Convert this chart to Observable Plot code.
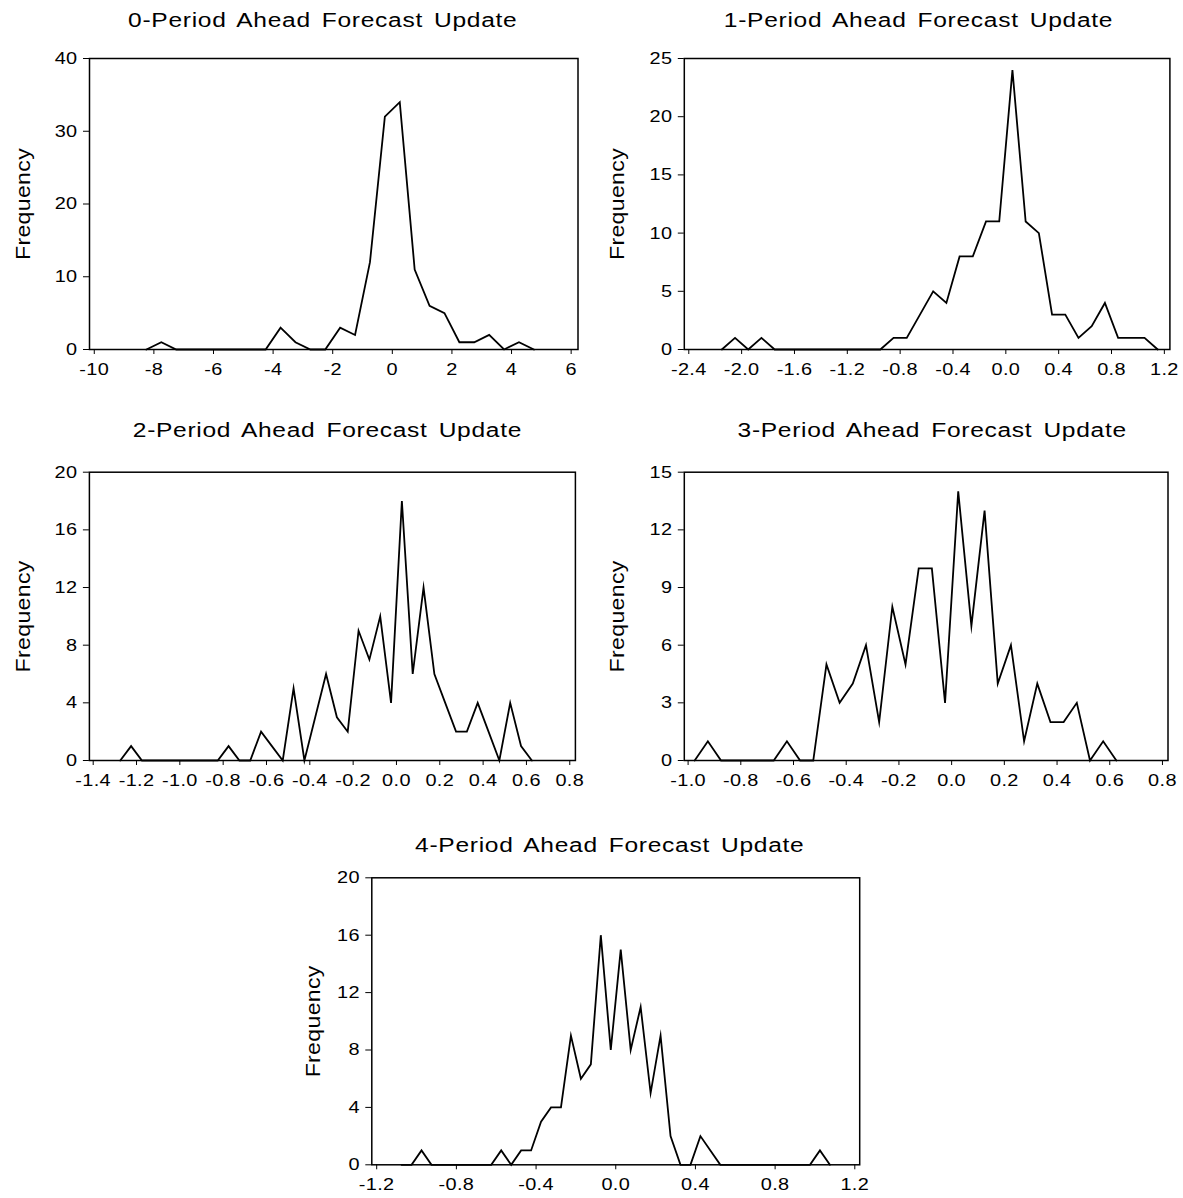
<!DOCTYPE html>
<html>
<head>
<meta charset="utf-8">
<script src="https://cdn.jsdelivr.net/npm/d3@7"></script>
<script src="https://cdn.jsdelivr.net/npm/@observablehq/plot@0.6"></script>
<style>
  html, body { margin: 0; padding: 0; background: #fff; }
  #page { position: relative; width: 1183px; height: 1198px; overflow: hidden; background: #fff; }
  #page svg { position: absolute; }
  #page svg text { letter-spacing: 0.3px; }
</style>
</head>
<body>
<div id="page"></div>
<script>
// Frequency polygons of forecast updates, 0 to 4 periods ahead.

const titles = [
  "0-Period Ahead Forecast Update",
  "1-Period Ahead Forecast Update",
  "2-Period Ahead Forecast Update",
  "3-Period Ahead Forecast Update",
  "4-Period Ahead Forecast Update"
];
const yLabel = "Frequency";

// 0-period: bin midpoints and counts
const update0X = [-8.25, -7.75, -7.25, -6.75, -6.25, -5.75, -5.25, -4.75, -4.25, -3.75, -3.25, -2.75, -2.25,
  -1.75, -1.25, -0.75, -0.25, 0.25, 0.75, 1.25, 1.75, 2.25, 2.75, 3.25, 3.75, 4.25, 4.75];
const update0Y = [0, 1, 0, 0, 0, 0, 0, 0, 0, 3, 1, 0, 0,
  3, 2, 12, 32, 34, 11, 6, 5, 1, 1, 2, 0, 1, 0];

// 1-period
const update1X = [-2.15, -2.05, -1.95, -1.85, -1.75, -1.65, -1.55, -1.45, -1.35, -1.25, -1.15, -1.05,
  -0.95, -0.85, -0.75, -0.65, -0.55, -0.45, -0.35, -0.25, -0.15, -0.05, 0.05, 0.15, 0.25, 0.35,
  0.45, 0.55, 0.65, 0.75, 0.85, 0.95, 1.05, 1.15];
const update1Y = [0, 1, 0, 1, 0, 0, 0, 0, 0, 0, 0, 0,
  0, 1, 1, 3, 5, 4, 8, 8, 11, 11, 24, 11, 10, 3,
  3, 1, 2, 4, 1, 1, 1, 0];

// 2-period
const update2X = [-1.275, -1.225, -1.175, -1.125, -1.075, -1.025, -0.975, -0.925, -0.875, -0.825,
  -0.775, -0.725, -0.675, -0.625, -0.575, -0.525, -0.475, -0.425, -0.375, -0.325, -0.275, -0.225,
  -0.175, -0.125, -0.075, -0.025, 0.025, 0.075, 0.125, 0.175, 0.225, 0.275, 0.325, 0.375, 0.425,
  0.475, 0.525, 0.575, 0.625];
const update2Y = [0, 1, 0, 0, 0, 0, 0, 0, 0, 0,
  1, 0, 0, 2, 1, 0, 5, 0, 3, 6, 3, 2,
  9, 7, 10, 4, 18, 6, 12, 6, 4, 2, 2, 4, 2,
  0, 4, 1, 0];

// 3-period
const update3X = [-0.975, -0.925, -0.875, -0.825, -0.775, -0.725, -0.675, -0.625, -0.575, -0.525,
  -0.475, -0.425, -0.375, -0.325, -0.275, -0.225, -0.175, -0.125, -0.075, -0.025, 0.025, 0.075,
  0.125, 0.175, 0.225, 0.275, 0.325, 0.375, 0.425, 0.475, 0.525, 0.575, 0.625];
const update3Y = [0, 1, 0, 0, 0, 0, 0, 1, 0, 0,
  5, 3, 4, 6, 2, 8, 5, 10, 10, 3, 14, 7,
  13, 4, 6, 1, 4, 2, 2, 3, 0, 1, 0];

// 4-period
const update4X = [-1.075, -1.025, -0.975, -0.925, -0.875, -0.825, -0.775, -0.725, -0.675, -0.625,
  -0.575, -0.525, -0.475, -0.425, -0.375, -0.325, -0.275, -0.225, -0.175, -0.125, -0.075, -0.025,
  0.025, 0.075, 0.125, 0.175, 0.225, 0.275, 0.325, 0.375, 0.425, 0.475, 0.525, 0.575, 0.625,
  0.675, 0.725, 0.775, 0.825, 0.875, 0.925, 0.975, 1.025, 1.075];
const update4Y = [0, 0, 1, 0, 0, 0, 0, 0, 0, 0,
  1, 0, 1, 1, 3, 4, 4, 9, 6, 7, 16, 8,
  15, 8, 11, 5, 9, 2, 0, 0, 2, 1, 0, 0, 0,
  0, 0, 0, 0, 0, 0, 0, 1, 0];

// tick labels
const xTicks0 = [-10, -8, -6, -4, -2, 0, 2, 4, 6];
const yTicks0 = [0, 10, 20, 30, 40];
const xTicks1 = [-2.4, -2.0, -1.6, -1.2, -0.8, -0.4, 0.0, 0.4, 0.8, 1.2];
const yTicks1 = [0, 5, 10, 15, 20, 25];
const xTicks2 = [-1.4, -1.2, -1.0, -0.8, -0.6, -0.4, -0.2, 0.0, 0.2, 0.4, 0.6, 0.8];
const yTicks2 = [0, 4, 8, 12, 16, 20];
const xTicks3 = [-1.0, -0.8, -0.6, -0.4, -0.2, 0.0, 0.2, 0.4, 0.6, 0.8];
const yTicks3 = [0, 3, 6, 9, 12, 15];
const xTicks4 = [-1.2, -0.8, -0.4, 0.0, 0.4, 0.8, 1.2];
const yTicks4 = [0, 4, 8, 12, 16, 20];

const fmtInt = d => String(d);
const fmtOne = d => d.toFixed(1);

const panels = [
  {title: titles[0], xs: update0X, ys: update0Y, xTicks: xTicks0, yTicks: yTicks0, fmt: fmtInt,
   xDomain: [-10.16, 6.23], yDomain: [0, 40],
   box: {left: 0, top: 0, width: 591, height: 395}, m: [58, 13.5, 46, 89],
   titleDx: -11, titleDy: -46.3, labelDx: -66.5},
  {title: titles[1], xs: update1X, ys: update1Y, xTicks: xTicks1, yTicks: yTicks1, fmt: fmtOne,
   xDomain: [-2.434, 1.242], yDomain: [0, 25],
   box: {left: 591, top: 0, width: 592, height: 395}, m: [58, 13.6, 46, 92.8],
   titleDx: -8.6, titleDy: -46.3, labelDx: -66.8},
  {title: titles[2], xs: update2X, ys: update2Y, xTicks: xTicks2, yTicks: yTicks2, fmt: fmtOne,
   xDomain: [-1.4175, 0.826], yDomain: [0, 20],
   box: {left: 0, top: 400, width: 591, height: 395}, m: [71.7, 16.1, 35, 88.9],
   titleDx: -5, titleDy: -50, labelDx: -66.5},
  {title: titles[3], xs: update3X, ys: update3Y, xTicks: xTicks3, yTicks: yTicks3, fmt: fmtOne,
   xDomain: [-1.0144, 0.821], yDomain: [0, 15],
   box: {left: 591, top: 400, width: 592, height: 395}, m: [71.7, 15.5, 35, 92.8],
   titleDx: 6, titleDy: -50, labelDx: -66.8},
  {title: titles[4], xs: update4X, ys: update4Y, xTicks: xTicks4, yTicks: yTicks4, fmt: fmtOne,
   xDomain: [-1.2246, 1.2246], yDomain: [0, 20],
   box: {left: 280, top: 800, width: 600, height: 398}, m: [77.3, 20.8, 33.7, 91.3],
   titleDx: -6, titleDy: -40.6, labelDx: -58.3}
];

const page = document.getElementById("page");
const font = "'Liberation Sans', Arial, Helvetica, sans-serif";

// The lettering is a broad grotesque: widen each label along its own
// reading direction, keeping its anchor point fixed.
function widen(svg, factorFor) {
  svg.querySelectorAll("text").forEach(el => {
    const factor = factorFor(el);
    const b = el.getBBox();
    const anchor = getComputedStyle(el).textAnchor;
    const ax = anchor === "end" ? b.x + b.width : anchor === "middle" ? b.x + b.width / 2 : b.x;
    const t = el.getAttribute("transform") || "";
    el.setAttribute("transform", `${t} translate(${ax},0) scale(${factor},1) translate(${-ax},0)`);
  });
}

for (const p of panels) {
  const rows = p.xs.map((x, i) => ({x, y: p.ys[i]}));
  const [mt, mr, mb, ml] = p.m;
  const svg = Plot.plot({
    width: p.box.width,
    height: p.box.height,
    marginTop: mt, marginRight: mr, marginBottom: mb, marginLeft: ml,
    style: {fontFamily: font, fontSize: "17px", color: "#000", background: "transparent", overflow: "visible"},
    x: {domain: p.xDomain, ticks: p.xTicks, tickFormat: p.fmt, tickSize: 5, tickPadding: 8, label: null},
    y: {domain: p.yDomain, ticks: p.yTicks, tickFormat: fmtInt, tickSize: 6, tickPadding: 6, label: null},
    marks: [
      Plot.line(rows, {x: "x", y: "y", stroke: "#000", strokeWidth: 1.8, strokeLinejoin: "miter", strokeMiterlimit: 10}),
      Plot.frame({stroke: "#000", strokeWidth: 1.5}),
      Plot.text([p.title], {text: d => d, frameAnchor: "top", lineAnchor: "top", textAnchor: "middle",
        dx: p.titleDx, dy: p.titleDy, fontSize: 21, fill: "#000"}),
      Plot.text([yLabel], {text: d => d, frameAnchor: "left", lineAnchor: "middle", textAnchor: "middle",
        rotate: -90, dx: p.labelDx, fontSize: 21, fill: "#000"})
    ]
  });
  svg.style.left = p.box.left + "px";
  svg.style.top = p.box.top + "px";
  d3.select(svg).selectAll("text")
    .filter(function () { return this.textContent === p.title; })
    .style("letter-spacing", "0.6px").style("word-spacing", "3px");
  page.appendChild(svg);
  widen(svg, el => el.textContent === yLabel ? 1.1 : 1.17);
}
</script>
</body>
</html>
